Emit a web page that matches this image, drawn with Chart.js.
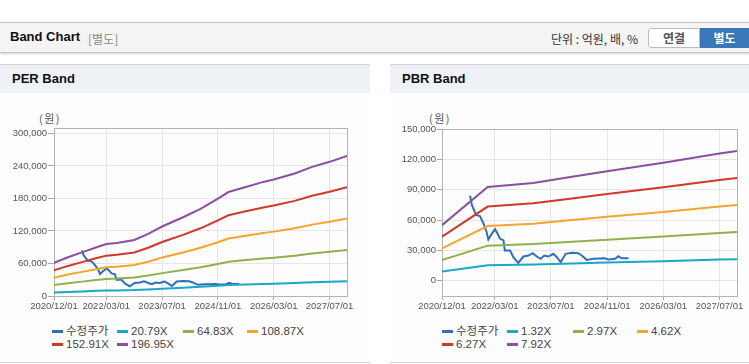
<!DOCTYPE html>
<html>
<head>
<meta charset="utf-8">
<script src="https://cdn.jsdelivr.net/npm/chart.js@4"></script>
<style>
  body { margin:0; width:749px; height:364px; background:#fff; position:relative; overflow:hidden;
         font-family:"Liberation Sans","Noto Sans CJK KR",sans-serif; }
  .abs { position:absolute; white-space:nowrap; }
  #bar { left:0; top:22px; width:749px; height:29px; background:#f4f4f4;
         border-top:1px solid #c4c4c4; border-bottom:1px solid #c4c4c4; box-shadow:0 1px 2px rgba(0,0,0,0.18); }
  .btn { top:28px; height:18px; line-height:18px; font-size:12px; font-weight:bold; text-align:center;
         font-family:"Noto Sans CJK KR",sans-serif; }
  .panel { top:64px; height:297px; background:#fdfdfd; border-top:1px solid #d6d6d6; border-bottom:1px solid #d6d6d6; }
  .ptitle { top:65px; height:28px; background:#eef1f5; }
  .ptext { top:71px; font-size:13px; font-weight:bold; color:#111; }
  .unit { top:110px; font-size:11px; color:#555; letter-spacing:1.5px; font-family:"Noto Sans CJK KR",sans-serif; }
  .leg { font-size:11.5px; color:#444; height:12px; line-height:12px; }
  .leg i { position:absolute; left:0; top:5px; width:11px; height:3px; }
  .leg span { position:absolute; left:14px; top:0; }
  canvas { position:absolute; }
</style>
</head>
<body>
<div id="bar" class="abs"></div>
<div class="abs" style="left:10px;top:29px;font-size:13px;font-weight:bold;color:#111;">Band Chart</div>
<div class="abs" style="left:88px;top:30px;font-size:12px;color:#888;font-family:'Noto Sans CJK KR';">[별도]</div>
<div class="abs" style="left:551px;top:30px;font-size:12px;color:#333;font-family:'Noto Sans CJK KR';">단위 : 억원, 배, %</div>
<div class="abs btn" style="left:648px;width:50px;background:#fff;border:1px solid #bdbdbd;border-radius:3px 0 0 3px;color:#555;">연결</div>
<div class="abs btn" style="left:700px;width:49px;height:20px;line-height:20px;background:#3a77b6;color:#fff;">별도</div>

<div class="abs panel" style="left:0;width:370px;"></div>
<div class="abs ptitle" style="left:0;width:370px;"></div>
<div class="abs ptext" style="left:12px;">PER Band</div>
<div class="abs unit" style="left:39px;">(원)</div>

<div class="abs panel" style="left:390px;width:359px;"></div>
<div class="abs ptitle" style="left:390px;width:359px;"></div>
<div class="abs ptext" style="left:402px;">PBR Band</div>
<div class="abs unit" style="left:429px;">(원)</div>

<canvas id="per" width="370" height="196" style="left:0;top:120px;"></canvas>
<canvas id="pbr" width="359" height="196" style="left:390px;top:120px;"></canvas>
<div id="perLegend"></div>
<div id="pbrLegend"></div>

<script>
// x tick labels
var xTickLabels = ['2020/12/01', '2022/03/01', '2023/07/01', '2024/11/01', '2026/03/01', '2027/07/01'];

// adjusted share price (수정주가)
var priceDates = ['2021/08/01','2021/08/16','2021/09/22','2021/10/25','2021/11/25','2021/12/22','2022/01/07',
  '2022/02/07','2022/03/04','2022/03/25','2022/04/16','2022/05/16','2022/05/28','2022/07/13','2022/08/10',
  '2022/09/22','2022/11/07','2022/12/19','2023/01/25','2023/03/01','2023/04/04','2023/05/04','2023/06/10',
  '2023/07/22','2023/08/22','2023/09/25','2023/11/07','2024/01/01','2024/02/25','2024/03/25','2024/05/07',
  '2024/07/04','2024/10/13','2024/11/13','2025/01/10','2025/02/07','2025/03/07','2025/05/04'];
var priceValues = [84000, 75000, 65000, 64000, 56700, 48300, 40700,
  46700, 51000, 46700, 41700, 40000, 30000, 30000, 23300,
  17700, 24000, 25000, 27300, 24000, 21700, 25000, 24000,
  26700, 23300, 18300, 26700, 27700, 27300, 25000, 20700,
  21700, 22300, 21000, 21700, 24300, 22300, 22300];

// EPS behind the PER band
var epsDates = ['2020/12','2021/04','2021/08','2021/12','2022/03','2022/06','2022/11','2023/03','2023/07','2024/01',
  '2024/06','2024/11','2025/02','2025/07','2025/12','2026/03','2026/09','2027/02','2027/07','2027/12'];
var epsValues = [310, 363, 409, 455, 487, 497, 525, 582, 651, 738,
  817, 912, 974, 1022, 1069, 1091, 1148, 1210, 1257, 1313];
var perMultiples = [20.79, 64.83, 108.87, 152.91, 196.95];

// BPS behind the PBR band
var bpsDates = ['2020/12','2022/01','2023/02','2024/01','2024/11','2026/03','2027/07','2027/12'];
var bpsValues = [6944, 11700, 12210, 12990, 13680, 14730, 15870, 16200];
var pbrMultiples = [1.32, 2.97, 4.62, 6.27, 7.92];

var perTicks = [0, 60000, 120000, 180000, 240000, 300000];
var pbrTicks = [0, 30000, 60000, 90000, 120000, 150000];

var colors = ['#2f6fbf', '#19a8c6', '#8db14f', '#f5a52c', '#d2362c', '#8b4f9e'];
var FONT = '"Liberation Sans","Noto Sans CJK KR",sans-serif';

function toMonth(s) {
  var p = s.split('/').map(Number);
  return (p[0] - 2020) * 12 + (p[1] - 12) + ((p[2] || 1) - 1) / 30;
}
var xTickPos = xTickLabels.map(toMonth);

var framePlugin = {
  id: 'frame',
  beforeDatasetsDraw: function (chart) {
    var a = chart.chartArea, c = chart.ctx;
    c.save();
    c.strokeStyle = '#b4b4b4';
    c.lineWidth = 1;
    c.strokeRect(Math.round(a.left) + 0.5, Math.round(a.top) + 0.5, Math.round(a.right - a.left), Math.round(a.bottom - a.top));
    c.restore();
  }
};

function makeChart(id, baseDates, baseValues, multiples, yTicks, yMin, yMax, yWidth, padTop, padRight, tickLen) {
  var datasets = [{
    label: '수정주가',
    data: priceDates.map(function (d, i) { return { x: toMonth(d), y: priceValues[i] }; }),
    borderColor: colors[0]
  }];
  multiples.forEach(function (m, k) {
    datasets.push({
      label: m.toFixed(2) + 'X',
      data: baseDates.map(function (d, i) { return { x: toMonth(d), y: baseValues[i] * m }; }),
      borderColor: colors[k + 1]
    });
  });
  datasets.forEach(function (ds) { ds.borderWidth = 2; ds.pointRadius = 0; ds.tension = 0; ds.fill = false; });
  // band lines under price line
  datasets.push(datasets.shift());

  return new Chart(document.getElementById(id), {
    type: 'line',
    data: { datasets: datasets },
    options: {
      responsive: false,
      animation: false,
      layout: { padding: { top: padTop, right: padRight, left: 0, bottom: 0 } },
      plugins: { legend: { display: false }, tooltip: { enabled: false } },
      scales: {
        x: {
          type: 'linear', min: 0, max: 84,
          afterBuildTicks: function (s) { s.ticks = xTickPos.map(function (v) { return { value: v }; }); },
          afterFit: function (s) { s.height = 20; },
          ticks: {
            autoSkip: false, maxRotation: 0, padding: 1, color: '#555',
            font: { family: FONT, size: 9.5 },
            callback: function (v, i) { return xTickLabels[i]; }
          },
          grid: { color: '#e6e6e6', tickColor: '#a8a8a8', tickLength: 4 },
          border: { color: '#a8a8a8' }
        },
        y: {
          min: yMin, max: yMax,
          afterBuildTicks: function (s) { s.ticks = yTicks.map(function (v) { return { value: v }; }); },
          afterFit: function (s) { s.width = yWidth; },
          ticks: {
            padding: 1, color: '#555',
            font: { family: FONT, size: 9.5 },
            callback: function (v) { return v.toLocaleString('en-US'); }
          },
          grid: { color: '#e6e6e6', tickColor: '#a8a8a8', tickLength: tickLen },
          border: { color: '#a8a8a8' }
        }
      }
    },
    plugins: [framePlugin]
  });
}

makeChart('per', epsDates, epsValues, perMultiples, perTicks, 0, 310000, 54, 8, 23, 6);
makeChart('pbr', bpsDates, bpsValues, pbrMultiples, pbrTicks, -15000, 150000, 52, 9, 12, 5);

function makeLegend(id, left, multiples) {
  var names = ['수정주가'].concat(multiples.map(function (m) { return m.toFixed(2) + 'X'; }));
  var cols = [52, 117, 183, 247];
  var html = '';
  names.forEach(function (n, i) {
    var x = left + cols[i % 4], y = 325 + Math.floor(i / 4) * 12.5;
    html += '<div class="abs leg" style="left:' + x + 'px;top:' + y + 'px;">' +
      '<i style="background:' + colors[i] + '"></i><span>' + n + '</span></div>';
  });
  document.getElementById(id).innerHTML = html;
}
makeLegend('perLegend', 0, perMultiples);
makeLegend('pbrLegend', 390, pbrMultiples);
</script>
</body>
</html>
